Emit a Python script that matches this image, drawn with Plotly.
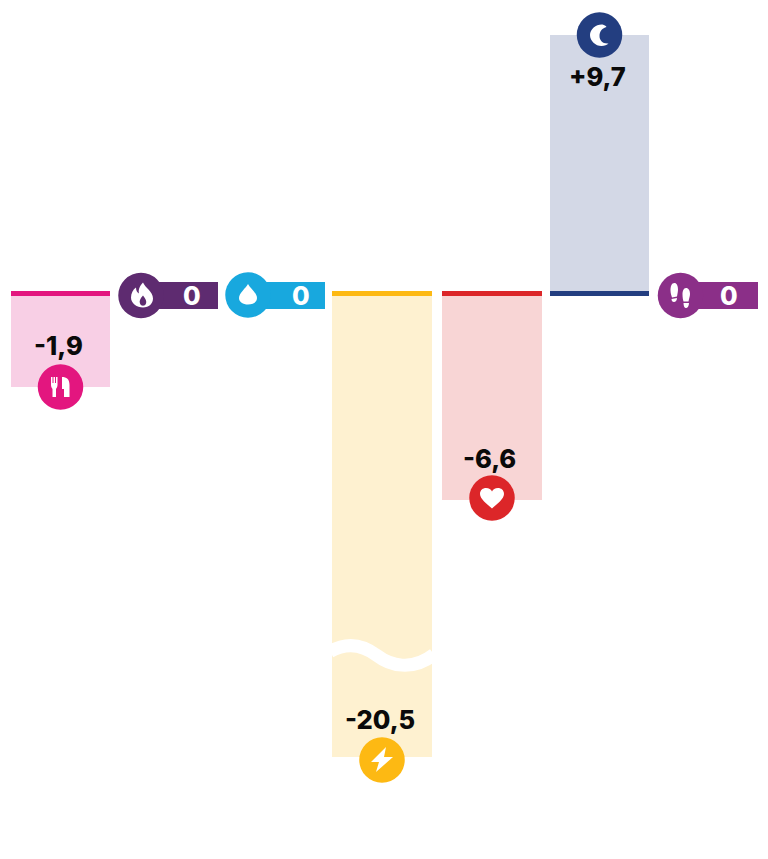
import plotly.graph_objects as go

# ---------- data ----------
categories = ["Nutrition", "Calories", "Water", "Energy", "Heart", "Sleep", "Steps"]
value_labels = ["-1,9", "0", "0", "-20,5", "-6,6", "+9,7", "0"]
# drawn bar lengths (the original scale is broken, so not proportional to the labels)
bar_lengths = [-93, 0, 0, -463, -206, 259, 0]

# ---------- style ----------
strong = ["#E3167F", "#5E2B70", "#18A8DE", "#FDB913", "#DC2629", "#233E80", "#8B2F88"]
light = ["#F8CFE5", "#FFFFFF", "#FFFFFF", "#FEF1D0", "#F8D5D5", "#D3D8E6", "#FFFFFF"]
FONT = "Inter"

# ---------- layout helpers (pixels) ----------
W, H = 768, 859
BASE_PX = 293.5
X0, STEP = 61, 107.67
centers_px = [60.5, 168, 275, 382, 492, 599.5, 707.5]
nudge = [c - (X0 + i * STEP) for i, c in enumerate(centers_px)]
BAR_W = 99.5

is_pill = [v == 0 for v in bar_lengths]
bar_idx = [i for i, p in enumerate(is_pill) if not p]
pill_idx = [i for i, p in enumerate(is_pill) if p]

fig = go.Figure()

# pale value bars
fig.add_trace(go.Bar(
    x=[categories[i] for i in bar_idx], y=[bar_lengths[i] for i in bar_idx], base=0,
    width=BAR_W / STEP,
    offset=[(nudge[i] - BAR_W / 2) / STEP for i in bar_idx],
    marker=dict(color=[light[i] for i in bar_idx], line_width=0), showlegend=False, hoverinfo="skip"))
# strong baseline rules
fig.add_trace(go.Bar(
    x=[categories[i] for i in bar_idx], y=[5] * len(bar_idx), base=-2.5,
    width=BAR_W / STEP,
    offset=[(nudge[i] - BAR_W / 2) / STEP for i in bar_idx],
    marker=dict(color=[strong[i] for i in bar_idx], line_width=0), showlegend=False, hoverinfo="skip"))
# zero-value pills (tail rectangle)
PILL_LEFT = -27  # from category centre
PILL_W = 77
fig.add_trace(go.Bar(
    x=[categories[i] for i in pill_idx], y=[27] * len(pill_idx), base=-15.5,
    width=PILL_W / STEP,
    offset=[(nudge[i] + PILL_LEFT) / STEP for i in pill_idx],
    marker=dict(color=[strong[i] for i in pill_idx], line_width=0), showlegend=False, hoverinfo="skip"))

# ---------- icons: path offsets in px from the disc centre, y up ----------
FLAME = ("M 1 13 C 3 8 11 4 11 -3 C 11 -8 7 -12 1 -12 C -5 -12 -11 -8 -11 -2 C -11 2 -9 6 -6 8 "
         "C -6 5 -5 3 -3 2 C -4 6 -2 10 1 13 Z "
         "M 1 0 C 3 -3 5 -5 4 -8 C 3 -11 -1 -11 -2 -8 C -3 -6 -2 -3 1 0 Z")
DROP = "M 0 11 C -2 7 -9 2 -9 -3 C -9 -7 -5 -9.5 0 -9.5 C 5 -9.5 9 -7 9 -3 C 9 2 2 7 0 11 Z"
CUTLERY = ("M -9.5 10 L -8 10 L -8 4 L -7 4 L -7 10 L -5.5 10 L -5.5 4 L -4.5 4 L -4.5 10 L -3 10 L -3 2 "
           "C -3 0 -4 -1 -4.5 -2 L -4.5 -10 L -8 -10 L -8 -2 C -8.5 -1 -9.5 0 -9.5 2 Z "
           "M 1.5 10 C 6 10 9 8 9 2 L 9 -10 L 3.5 -10 L 3.5 -2 L 1.5 -2 Z")
BOLT = "M 4 13 L -11 -2 L -3 -2 L -6 -12 L 11 3 L 2 3 Z"
MOON = ("M 3 10.5 C -3 11 -9.5 6 -9.5 0 C -9.5 -6 -4 -11 2 -11 C 5 -11 7.5 -10 9 -8.5 "
        "C 3 -9 0 -5 0 -1 C 0 4 3 7 7 8 C 6 9.5 5 10 3 10.5 Z")
HEART = ("M 0 -10.5 C -5 -6 -12 -1 -12 4 C -12 8 -9 10 -6 10 C -3 10 -1 8.5 0 6.5 "
         "C 1 8.5 3 10 6 10 C 9 10 12 8 12 4 C 12 -1 5 -6 0 -10.5 Z")
STEPS = ("M -6 12.5 C -9 12.5 -10 9 -10 5 C -10 2 -9 0 -8.5 -2 L -3.5 -1 C -3 2 -2.5 4 -2.5 6 C -2.5 10 -4 12.5 -6 12.5 Z "
         "M -9 -3.5 L -3.5 -2.5 C -3.5 -5 -5 -6.5 -6.5 -6.5 C -8 -6.5 -9 -5.5 -9 -3.5 Z "
         "M 5.5 7.5 C 3 7.5 2 4.5 2 1 C 2 -2 2.5 -4 3 -6 L 8 -6 C 8.5 -3 9.5 -1 9.5 1.5 C 9.5 5 8 7.5 5.5 7.5 Z "
         "M 3 -7.5 L 8.5 -7.5 C 8.5 -10.5 7 -12.5 5.5 -12.5 C 4 -12.5 3 -10.5 3 -7.5 Z")

# icon per category; disc centre relative to category centre and baseline
icons = [CUTLERY, FLAME, DROP, BOLT, HEART, MOON, STEPS]
disc_dx = [0, -27, -27, 0, 0, 0, -27]
disc_dy = [-93.5, -2, -1.5, -466.5, -204.5, 258.5, -2]
icon_dx = [0, 1, 0, 0, 0, 0, 0]
R = 22.75

shapes = []
for i, cat in enumerate(categories):
    cx = nudge[i] + disc_dx[i]
    common = dict(xref="x", yref="y", xsizemode="pixel", ysizemode="pixel",
                  xanchor=cat, yanchor=disc_dy[i], line_width=0)
    shapes.append(dict(type="circle", x0=cx - R, x1=cx + R, y0=-R, y1=R,
                       fillcolor=strong[i], **common))
    # translate the icon path to the disc centre
    toks = icons[i].split()
    out, k = [], 0
    for t in toks:
        if t.isalpha():
            out.append(t); k = 0
        else:
            v = float(t)
            out.append(f"{v + cx + icon_dx[i]:.2f}" if k % 2 == 0 else f"{v:.2f}")
            k += 1
    shapes.append(dict(type="path", path=" ".join(out), fillcolor="#FFFFFF",
                       **{**common, "line_width": 0}))

# axis-break wave across the Energy bar
e = categories.index("Energy")
wave = [(-52, -358), (-38, -350), (-22, -349), (-5, -362), (8, -372), (30, -378), (52, -361)]
n = nudge[e]
wave_path = (f"M {wave[0][0]+n} {wave[0][1]} C {wave[1][0]+n} {wave[1][1]} {wave[2][0]+n} {wave[2][1]} {wave[3][0]+n} {wave[3][1]} "
             f"C {wave[4][0]+n} {wave[4][1]} {wave[5][0]+n} {wave[5][1]} {wave[6][0]+n} {wave[6][1]}")
shapes.append(dict(type="path", path=wave_path, xref="x", yref="y", xsizemode="pixel", ysizemode="pixel",
                   xanchor=categories[e], yanchor=0, fillcolor="rgba(0,0,0,0)",
                   line=dict(color="#FFFFFF", width=13)))

# ---------- value labels ----------
label_dy = [-52, -1.5, -1.5, -426, -164.5, 217.5, -1.5]
label_dx = [-2, 24, 26, -2, -2.5, -2.5, 21.5]
annotations = []
for i, cat in enumerate(categories):
    annotations.append(dict(
        x=cat, y=label_dy[i], xref="x", yref="y", text=value_labels[i],
        xshift=nudge[i] + label_dx[i], showarrow=False, xanchor="center", yanchor="middle",
        font=dict(family=FONT, size=25.5, weight=800, color="#FFFFFF" if is_pill[i] else "#0A0A0A")))

fig.update_layout(
    width=W, height=H, margin=dict(l=0, r=0, t=0, b=0), barmode="overlay", bargap=0,
    paper_bgcolor="#FFFFFF", plot_bgcolor="#FFFFFF", showlegend=False,
    shapes=shapes, annotations=annotations,
    xaxis=dict(type="category", categoryorder="array", categoryarray=categories,
               range=[-X0 / STEP, (W - X0) / STEP], visible=False, fixedrange=True),
    yaxis=dict(range=[BASE_PX - H, BASE_PX], visible=False, fixedrange=True),
)
fig.write_html("out.html", config={"displayModeBar": False},
               post_script="document.body.style.margin='0';document.documentElement.style.overflow='hidden';")
